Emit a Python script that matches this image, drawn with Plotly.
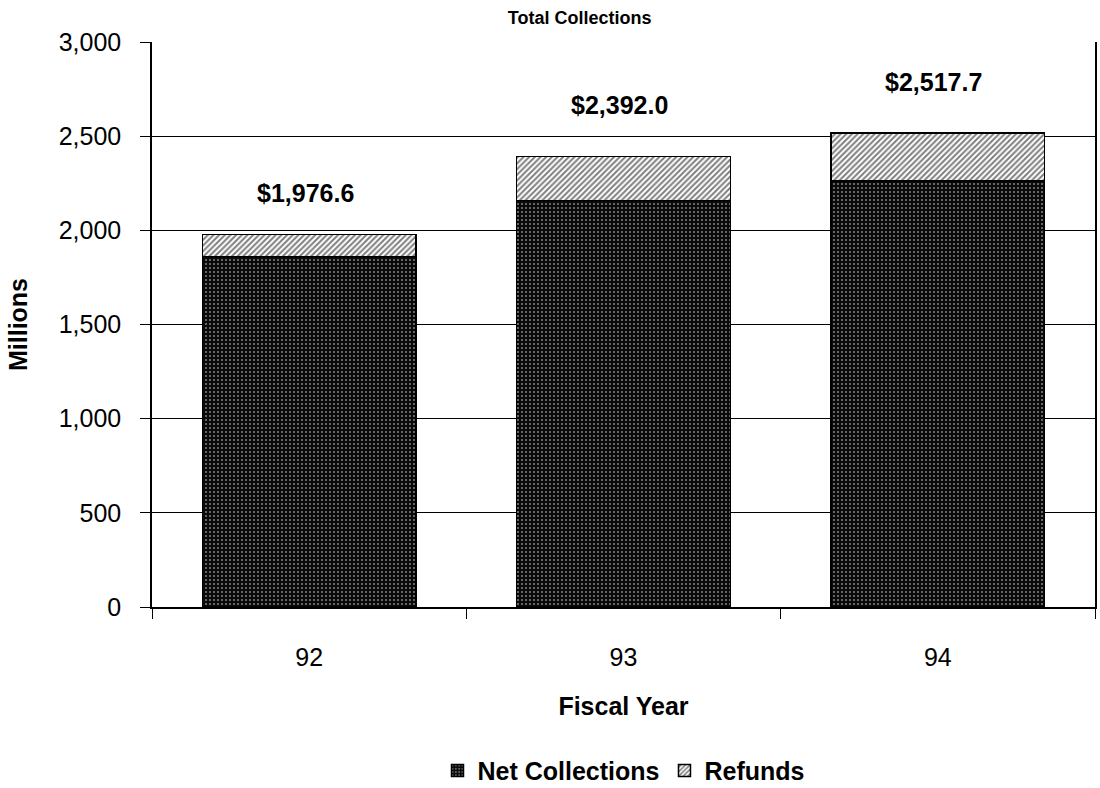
import plotly.graph_objects as go

# Fiscal years and collections (millions of dollars)
years = ["92", "93", "94"]
net_collections = [1859.8, 2158.0, 2262.7]
refunds = [116.8, 234.0, 255.0]

y_ticks = [0, 500, 1000, 1500, 2000, 2500, 3000]

totals = [n + r for n, r in zip(net_collections, refunds)]

FONT = "Liberation Sans, Arial, sans-serif"

fig = go.Figure()

fig.add_trace(go.Bar(
    name="Net Collections",
    x=years,
    y=net_collections,
    marker=dict(
        color="black",
        line=dict(color="black", width=1.5),
        pattern=dict(shape=".", fgcolor="white", bgcolor="#0a0a0a",
                     size=4, solidity=0.2, fillmode="overlay"),
    ),
))

fig.add_trace(go.Bar(
    name="Refunds",
    x=years,
    y=refunds,
    marker=dict(
        color="white",
        line=dict(color="black", width=1.5),
        pattern=dict(shape="/", fgcolor="black", bgcolor="white",
                     size=4, solidity=0.5, fillmode="overlay"),
    ),
))

# Total value above each stacked bar (category axis positions are indices)
for i, (tot, shift) in enumerate(zip(totals, [42, 52, 51])):
    fig.add_annotation(
        x=i, y=tot, text=f"${tot:,.1f}",
        showarrow=False, yanchor="middle", yshift=shift, xshift=-4,
        font=dict(family=FONT, size=25, color="black", weight="bold"),
    )

fig.update_layout(
    barmode="stack",
    bargap=0.32,
    width=1100, height=788,
    margin=dict(l=152, r=3, t=42, b=181),
    paper_bgcolor="white",
    plot_bgcolor="white",
    font=dict(family=FONT, color="black"),
    title=dict(
        text="Total Collections",
        x=0.527, xanchor="center", y=0.978, yanchor="middle",
        font=dict(family=FONT, size=18, color="black", weight="bold"),
    ),
    legend=dict(
        orientation="h",
        x=0.50, xanchor="center",
        yref="container", y=0.022, yanchor="middle",
        font=dict(family=FONT, size=25, color="black", weight="bold"),
        itemwidth=30,
        traceorder="normal",
    ),
    xaxis=dict(
        type="category",
        range=[-0.5, 2.5],
        title=dict(text="Fiscal Year", standoff=28,
                   font=dict(family=FONT, size=25, weight="bold")),
        tickfont=dict(family=FONT, size=25),
        tickangle=0,
        ticklabelstandoff=27,
        showline=True, linecolor="black", linewidth=1.5,
        ticks="outside", ticklen=10, tickcolor="black",
        tickson="boundaries",
        showgrid=False,
    ),
    yaxis=dict(
        title=dict(text="Millions", standoff=24,
                   font=dict(family=FONT, size=25, weight="bold")),
        range=[0, 3000],
        tickvals=y_ticks,
        tickformat=",",
        tickfont=dict(family=FONT, size=25),
        ticklabelstandoff=14,
        showline=True, linecolor="black", linewidth=1.5, mirror=True,
        ticks="outside", ticklen=10, tickcolor="black",
        showgrid=True, gridcolor="black", gridwidth=1.2,
        zeroline=False,
    ),
)

fig.write_html("out.html")
